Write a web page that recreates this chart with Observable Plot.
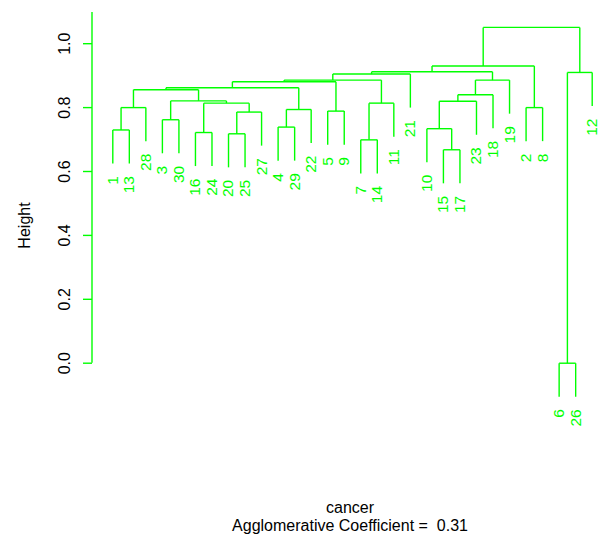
<!DOCTYPE html>
<html>
<head>
<meta charset="utf-8">
<script src="https://cdn.jsdelivr.net/npm/d3@7"></script>
<script src="https://cdn.jsdelivr.net/npm/@observablehq/plot@0.6"></script>
<style>
  html, body { margin: 0; padding: 0; background: #fff; overflow: hidden; }
  body { font-family: "Liberation Sans", Arial, Helvetica, sans-serif; color: #000; }
  #caption { margin-left: 98px; width: 504px; text-align: center; font-size: 16px; line-height: 18px; white-space: pre; }
</style>
</head>
<body>
<div id="chart"></div>
<div id="caption"></div>
<script>
// ---- data ----
const leafOrder = [1,13,28,3,30,16,24,20,25,27,4,29,22,5,9,7,14,11,21,10,15,17,23,18,19,2,8,6,26,12];
// R-style merge table: negative = leaf id, positive = earlier merge (1-based)
const mergeA = [-6,-15,-7,-20,-16,-1,-10,-4,-3, 4,-5, 8, 6,-2, 3, 5, 7, 9,17,13,20,21,22,19,23, 1,25,27,28];
const mergeB = [-26,-17,-14,-25,-24,-13, 2,-29,-30,-27,-9,-22,-28,-8,-11,10,-23,16,-18,18,12,11,15,-19,-21,-12,24,14,26];
const mergeHeight = [0.000,0.668,0.699,0.718,0.722,0.730,0.734,0.739,0.762,0.786,0.789,0.794,0.800,0.800,0.814,0.814,0.820,0.821,0.840,0.856,0.862,0.881,0.886,0.886,0.905,0.910,0.912,0.930,1.051];
const hang = 0.105;
const yTicks = [0.0, 0.2, 0.4, 0.6, 0.8, 1.0];
const yLabel = "Height";
const xLabel = "cancer";
const subLabel = "Agglomerative Coefficient =  0.31";

// ---- build dendrogram geometry from the merge table ----
const pos = new Map(leafOrder.map((id, i) => [id, i + 1]));
const nodeX = [];
const segments = [];
const leaves = [];
mergeA.forEach((a, i) => {
  const h = mergeHeight[i];
  const child = c => c < 0
    ? (leaves.push({id: -c, x: pos.get(-c), y: h - hang}), {x: pos.get(-c), top: h - hang})
    : {x: nodeX[c - 1], top: mergeHeight[c - 1]};
  const L = child(a), R = child(mergeB[i]);
  segments.push({x1: L.x, y1: L.top, x2: L.x, y2: h});
  segments.push({x1: R.x, y1: R.top, x2: R.x, y2: h});
  segments.push({x1: L.x, y1: h, x2: R.x, y2: h});
  nodeX.push((L.x + R.x) / 2);
});

const green = "#00ff00";
const font = "Liberation Sans, Arial, Helvetica, sans-serif";

const axisLine = (index, scales, values, dims) => {
  const g = d3.create("svg:g");
  g.append("line")
    .attr("x1", dims.marginLeft).attr("x2", dims.marginLeft)
    .attr("y1", scales.y(yTicks[0])).attr("y2", dims.marginTop)
    .attr("stroke", green).attr("stroke-width", 1.4);
  return g.node();
};

const chart = Plot.plot({
  width: 602,
  height: 499,
  marginLeft: 92,
  marginTop: 12,
  marginRight: 0,
  marginBottom: 61,
  style: {fontFamily: font, fontSize: "16px", background: "#fff", color: "#000"},
  x: {type: "linear", domain: [1, leafOrder.length], range: [112.3, 591.7], axis: null},
  y: {domain: [0, 1], range: [362.7, 43.2]},
  marks: [
    Plot.axisY(yTicks, {anchor: "left", tickSize: 9, tickPadding: 13.5, tickRotate: -90,
      tickFormat: d3.format(".1f"), stroke: green, strokeWidth: 1.4, fill: "#000", fontSize: 16, label: null}),
    axisLine,
    Plot.text([yLabel], {frameAnchor: "left", text: d => d, rotate: -90, dx: -68,
      lineAnchor: "middle", textAnchor: "middle", fontSize: 16, fill: "#000"}),
    Plot.link(segments, {x1: "x1", y1: "y1", x2: "x2", y2: "y2", stroke: green, strokeWidth: 1.4}),
    Plot.text(leaves, {x: "x", y: "y", text: d => String(d.id), rotate: -90,
      textAnchor: "end", lineAnchor: "middle", dy: 12.5, fontSize: 15.5, fill: green})
  ]
});
document.getElementById("chart").appendChild(chart);
document.getElementById("caption").textContent = xLabel + "\n" + subLabel;
</script>
</body>
</html>
